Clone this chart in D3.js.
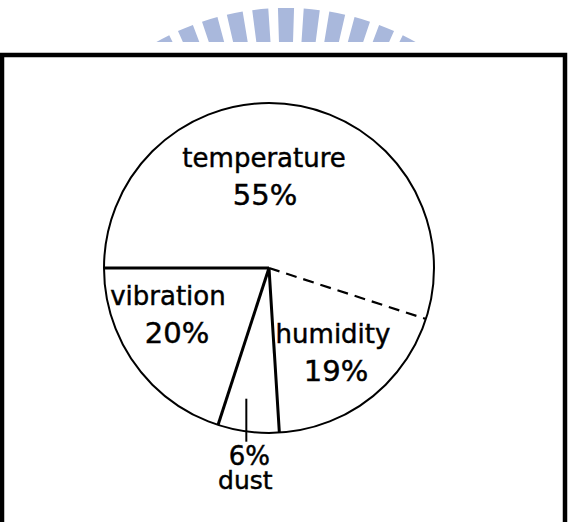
<!DOCTYPE html>
<html>
<head>
<meta charset="utf-8">
<script src="https://d3js.org/d3.v7.min.js"></script>
<style>
    html, body { margin: 0; padding: 0; background: #fff; }
    svg { display: block; }
    text { font-family: "DejaVu Sans", sans-serif; fill: #000; stroke: #000; stroke-width: 0.45px; }
</style>
</head>
<body>
<div id="chart"></div>
<script>
    // chart data
    var categories = ["temperature", "humidity", "dust", "vibration"];
    var shares = [55, 19, 6, 20];
    var percentLabels = ["55%", "19%", "6%", "20%"];
    // the boundary that starts this slice is drawn dashed
    var dashedStart = ["humidity"];

    // watermark rays (degrees from vertical)
    var logoAngles = [-28, -22.4, -16.8, -11.2, -5.6, 0, 5.6, 11.2, 16.8, 22.4, 28];

    var width = 570, height = 522;
    var cx = 269, cy = 268, R = 165;

    var svg = d3.select("#chart").append("svg")
        .attr("width", width)
        .attr("height", height);

    // --- watermark, cut off above the frame
    svg.append("clipPath").attr("id", "logoClip")
        .append("rect").attr("x", 0).attr("y", 0).attr("width", width).attr("height", 42);

    var logoArc = d3.arc()
        .innerRadius(190)
        .outerRadius(264)
        .startAngle(function (d) { return (d - 1.75) * Math.PI / 180; })
        .endAngle(function (d) { return (d + 1.75) * Math.PI / 180; });

    svg.append("g")
        .attr("clip-path", "url(#logoClip)")
        .append("g")
        .attr("transform", "translate(286,272)")
        .selectAll("path")
        .data(logoAngles)
        .enter().append("path")
        .attr("d", logoArc)
        .style("fill", "#a9b8dc");

    // --- frame
    svg.append("rect")
        .attr("x", 2).attr("y", 55)
        .attr("width", 563).attr("height", 520)
        .style("fill", "none")
        .style("stroke", "#000")
        .style("stroke-width", 4.5);

    // --- pie
    var pie = d3.pie()
        .sort(null)
        .startAngle(-Math.PI / 2)
        .endAngle(3 * Math.PI / 2);

    var slices = pie(shares);
    var g = svg.append("g").attr("transform", "translate(" + cx + "," + cy + ")");

    var arc = d3.arc().innerRadius(0).outerRadius(R);

    g.selectAll("path.slice")
        .data(slices)
        .enter().append("path")
        .attr("class", "slice")
        .attr("d", arc)
        .style("fill", "#fff");

    g.append("circle")
        .attr("r", R)
        .style("fill", "none")
        .style("stroke", "#000")
        .style("stroke-width", 2);

    function polar(a, r) {
        return [Math.sin(a) * r, -Math.cos(a) * r];
    }

    // radial boundaries
    g.selectAll("line.edge")
        .data(slices)
        .enter().append("line")
        .attr("class", "edge")
        .attr("x1", 0).attr("y1", 0)
        .attr("x2", function (d) { return polar(d.startAngle, R)[0]; })
        .attr("y2", function (d) { return polar(d.startAngle, R)[1]; })
        .style("stroke", "#000")
        .style("stroke-width", function (d) {
            return dashedStart.indexOf(categories[d.index]) >= 0 ? 2.2 : 3;
        })
        .style("stroke-dasharray", function (d) {
            return dashedStart.indexOf(categories[d.index]) >= 0 ? "11 7" : null;
        });

    // --- labels, placed in polar terms around the pie centre
    var labelPlace = {
        temperature: {angle: -2.8, r: 101, dx2: 1, outside: false},
        humidity: {angle: 139.5, r: 98.6, dx2: 3, outside: false},
        vibration: {angle: 249.9, r: 107.6, dx2: 9, outside: false},
        dust: {angle: 185.7, r: 198, dx2: -4, outside: true}
    };

    slices.forEach(function (d) {
        var name = categories[d.index];
        var pl = labelPlace[name];
        var p = polar(pl.angle * Math.PI / 180, pl.r);
        var first = pl.outside ? percentLabels[d.index] : name;
        var second = pl.outside ? name : percentLabels[d.index];

        g.append("text")
            .attr("text-anchor", "middle")
            .attr("x", p[0]).attr("y", p[1])
            .style("font-size", pl.outside ? "26px" : "26px")
            .text(first);
        g.append("text")
            .attr("text-anchor", "middle")
            .attr("x", p[0] + pl.dx2).attr("y", p[1] + (pl.outside ? 24 : 38))
            .style("font-size", pl.outside ? "25px" : "29px")
            .text(second);

        if (pl.outside) {
            // leader from the label up into the small slice
            var mid = (d.startAngle + d.endAngle) / 2;
            var e = polar(mid, R);
            g.append("line")
                .attr("x1", e[0] - 2).attr("y1", e[1] - 33)
                .attr("x2", e[0] - 2).attr("y2", e[1] + 10)
                .style("stroke", "#000")
                .style("stroke-width", 2);
        }
    });
</script>
</body>
</html>
